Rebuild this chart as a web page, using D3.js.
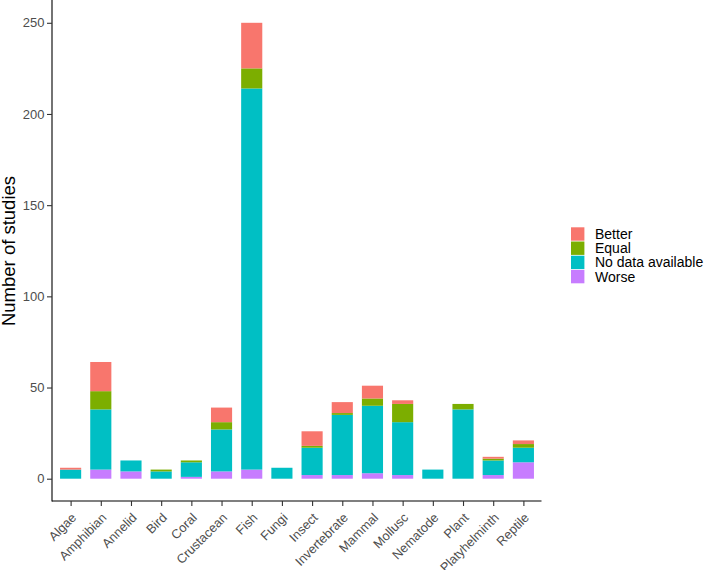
<!DOCTYPE html>
<html>
<head>
<meta charset="utf-8">
<script src="https://cdn.jsdelivr.net/npm/d3@7"></script>
<style>
  html, body { margin: 0; padding: 0; background: #fff; }
  svg { display: block; font-family: "Liberation Sans", Arial, sans-serif; }
</style>
</head>
<body>
<svg id="chart" width="709" height="570"></svg>
<script>
const categories = ["Algae","Amphibian","Annelid","Bird","Coral","Crustacean","Fish","Fungi","Insect","Invertebrate","Mammal","Mollusc","Nematode","Plant","Platyhelminth","Reptile"];
const worse     = [0, 5, 4, 0, 1, 4,   5, 0, 2, 2, 3, 2, 0, 0, 2, 9];
const noData    = [5, 33, 6, 4, 8, 23, 209, 6, 15, 33, 37, 29, 5, 38, 8, 8];
const equal     = [0, 10, 0, 1, 1, 4,  11, 0, 1, 1, 4, 10, 0, 3, 1, 2];
const better    = [1, 16, 0, 0, 0, 8,  25, 0, 8, 6, 7, 2, 0, 0, 1, 2];
const seriesNames = ["Better","Equal","No data available","Worse"];
const seriesColors = ["#F8766D","#7CAE00","#00BFC4","#C77CFF"];
const yTicks = [0, 50, 100, 150, 200, 250];

const svg = d3.select("#chart");

const x = d3.scalePoint().domain(categories).range([52.5, 541.5]).padding(0.6);
const bw = x.step() * 0.7;
const y = d3.scaleLinear().domain([-12.5, 262.5]).range([501.5, 0]);

const rows = categories.map((c, i) => ({
  cat: c,
  "Worse": worse[i],
  "No data available": noData[i],
  "Equal": equal[i],
  "Better": better[i]
}));
// stack order bottom-to-top: Worse, No data, Equal, Better
const stackKeys = ["Worse","No data available","Equal","Better"];
const stacked = d3.stack().keys(stackKeys)(rows);
const color = d3.scaleOrdinal().domain(seriesNames).range(seriesColors);

svg.append("g").selectAll("g")
  .data(stacked)
  .join("g")
  .attr("fill", d => color(d.key))
  .selectAll("rect")
  .data(d => d)
  .join("rect")
  .attr("x", d => x(d.data.cat) - bw / 2)
  .attr("width", bw)
  .attr("y", d => y(d[1]))
  .attr("height", d => Math.max(0, y(d[0]) - y(d[1])));

// Y axis
const yAxis = svg.append("g")
  .attr("transform", "translate(52,0)")
  .call(d3.axisLeft(y).tickValues(yTicks).tickSize(5).tickPadding(2.5).tickSizeOuter(0));
yAxis.select(".domain").attr("stroke", "#000").attr("stroke-width", 1.1).attr("d", "M0,0V501.5");
yAxis.selectAll(".tick line").attr("stroke", "#333").attr("stroke-width", 1.1);
yAxis.selectAll(".tick text").attr("fill", "#4D4D4D").style("font-size", "13px");

// X axis
const xAxis = svg.append("g")
  .attr("transform", "translate(0,501)")
  .call(d3.axisBottom(x).tickSize(5).tickSizeOuter(0));
xAxis.select(".domain").attr("stroke", "#000").attr("stroke-width", 1.1).attr("d", "M52,0H541.5");
xAxis.selectAll(".tick line").attr("stroke", "#333").attr("stroke-width", 1.1);
xAxis.selectAll(".tick text")
  .attr("fill", "#4D4D4D")
  .style("font-size", "12.8px")
  .attr("text-anchor", "end")
  .attr("dy", null)
  .attr("y", null)
  .attr("transform", "translate(6,17.5) rotate(-45)");

// Y title
svg.append("text")
  .attr("transform", "translate(15,251) rotate(-90)")
  .attr("text-anchor", "middle")
  .style("font-size", "18.5px")
  .attr("fill", "#000")
  .text("Number of studies");

// Legend
const lg = svg.append("g").attr("transform", "translate(571,227.3)");
seriesNames.forEach((name, i) => {
  lg.append("rect")
    .attr("x", 0).attr("y", i * 14.2)
    .attr("width", 13.4).attr("height", 13.4)
    .attr("fill", color(name));
  lg.append("text")
    .attr("x", 24).attr("y", i * 14.2 + 6.7 + 5)
    .style("font-size", "14px")
    .attr("fill", "#000")
    .text(name);
});
</script>
</body>
</html>
